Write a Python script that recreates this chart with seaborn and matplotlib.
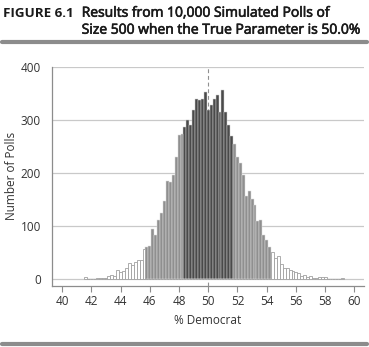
import numpy as np
import pandas as pd
import matplotlib
matplotlib.use("Agg")
import matplotlib.pyplot as plt
import matplotlib.patheffects as pe
import seaborn as sns

# Possible poll results for n = 500 (0.2-point steps), 41.6% .. 59.2%
pct_democrat = np.round(np.arange(208, 297) * 0.2, 1)

# Number of simulated polls (out of 10,000) landing on each result
left_tail = [4, 0, 0, 0, 2, 2, 2, 3, 6, 9, 7, 18, 13, 16, 21, 30, 27, 33, 37, 36, 58]
central = [61, 62, 94, 84, 111, 126, 147, 185, 184, 197, 230, 273, 275,
           287, 300, 292, 319, 340, 338, 341, 353, 319, 328, 340, 347, 316,
           358, 316, 291, 270,
           255, 230, 220, 196, 157, 166, 152, 141, 110, 111, 83, 75, 61]
right_tail = [52, 40, 44, 28, 22, 21, 18, 15, 13, 11, 6, 8, 5, 6, 3, 3, 4, 4, 4,
              0, 0, 0, 0, 0, 2]
num_polls = np.array(left_tail + central + right_tail)

true_parameter = 50.0
inner_band = (48.3, 51.7)   # darkest bars
outer_band = (45.7, 54.3)   # light grey bars

y_ticks = [0, 100, 200, 300, 400]
x_ticks = [40, 42, 44, 46, 48, 50, 52, 54, 56, 58, 60]

df = pd.DataFrame({"pct": pct_democrat, "polls": num_polls})
df["band"] = np.where((df.pct > inner_band[0]) & (df.pct < inner_band[1]), "inner",
              np.where((df.pct > outer_band[0]) & (df.pct < outer_band[1]), "outer", "tail"))

sns.set_theme(style="white")
plt.rcParams["font.family"] = ["Open Sans", "DejaVu Sans"]

fig = plt.figure(figsize=(3.69, 3.47), dpi=100)
ax = fig.add_axes([0.1409, 0.1772, 0.8455, 0.6297])

band_styles = {
    "inner": dict(color="#4a4a4a", edgecolor="#cfcfcf", linewidth=0.35),
    "outer": dict(color="#8f8f8f", edgecolor="#dedede", linewidth=0.35),
    "tail": dict(color="white", edgecolor="#a0a0a0", linewidth=0.6),
}
for band, style in band_styles.items():
    sub = df[(df.band == band) & (df.polls > 0)]
    sns.histplot(data=sub, x="pct", weights="polls", binwidth=0.2,
                 binrange=(41.5, 59.3), stat="count",
                 fill=True, alpha=1, ax=ax, zorder=3, **style)

ax.axvline(true_parameter, color="#909090", lw=0.8, ls=(0, (3.5, 2.5)), zorder=1)

ax.set_xlim(39.3, 60.66)
ax.set_ylim(-11.7, 400.5)
ax.set_yticks(y_ticks)
ax.set_xticks(x_ticks)
ax.yaxis.grid(True, color="#c9c9c9", lw=0.9, zorder=0)
ax.xaxis.grid(False)
ax.set_axisbelow(True)

for side in ("top", "right"):
    ax.spines[side].set_visible(False)
for side in ("left", "bottom"):
    ax.spines[side].set_color("#8c8c8c")
    ax.spines[side].set_linewidth(0.9)

ax.tick_params(axis="x", length=4.5, width=0.8, color="#8c8c8c", pad=2,
               labelsize=8.5, labelcolor="#333333", bottom=True)
ax.tick_params(axis="y", length=0, pad=8, labelsize=8.5, labelcolor="#333333")

ax.set_xlabel("% Democrat", fontsize=8.5, color="#333333", labelpad=5)
ax.set_ylabel("Number of Polls", fontsize=8.5, color="#333333", labelpad=2)

# Heading
heavier = [pe.withStroke(linewidth=0.45, foreground="#1a1a1a")]
fig.text(0.007, 0.962, "FIGURE 6.1", fontsize=9.6, weight="bold", color="#1a1a1a",
         va="center", ha="left")
fig.text(0.2214, 0.962, "Results from 10,000 Simulated Polls of", fontsize=10,
         color="#1a1a1a", va="center", ha="left", path_effects=heavier)
fig.text(0.2214, 0.913, "Size 500 when the True Parameter is 50.0%", fontsize=10,
         color="#1a1a1a", va="center", ha="left", path_effects=heavier)

# Rules above and below the chart
fig.add_artist(plt.Line2D([0.005, 0.995], [0.879, 0.879], color="#8c8c8c", lw=3,
                          transform=fig.transFigure))
fig.add_artist(plt.Line2D([0.005, 0.995], [0.0095, 0.0095], color="#8c8c8c", lw=3,
                          transform=fig.transFigure))

fig.savefig("out.png", dpi=100)
